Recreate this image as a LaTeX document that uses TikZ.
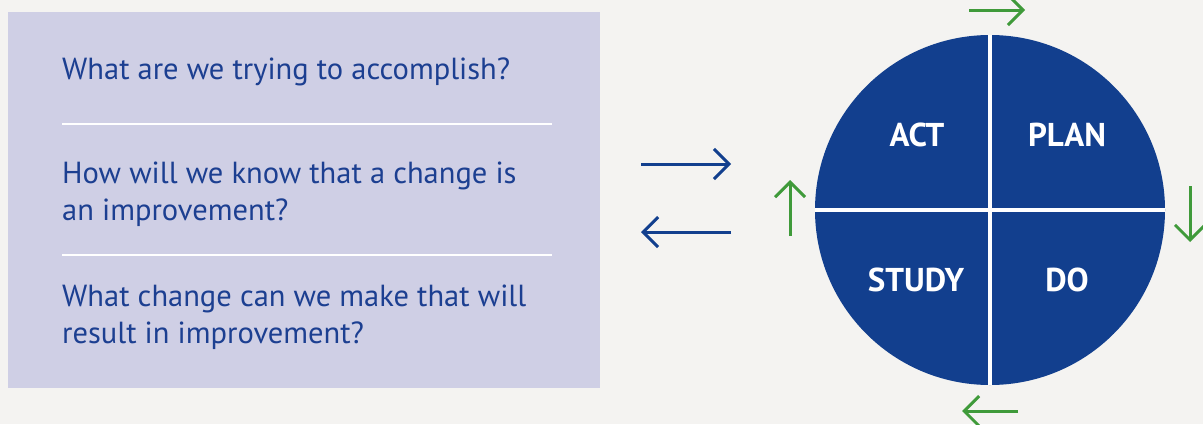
\documentclass[tikz,border=0pt]{standalone}
\usepackage{fontspec}
\setmainfont{PT Sans}
\usetikzlibrary{arrows.meta}
\definecolor{bg}{HTML}{F4F3F1}
\definecolor{boxc}{HTML}{CFCFE5}
\definecolor{navy}{HTML}{123F8E}
\definecolor{txt}{HTML}{1C3F91}
\definecolor{grn}{HTML}{3F9A3A}
\begin{document}
\begin{tikzpicture}[x=1pt,y=-1pt,
  question/.style={anchor=base west, inner sep=0, text=txt, align=left,
    font=\fontsize{30.5}{37}\selectfont},
  phase/.style={text=white, inner sep=0, font=\bfseries\fontsize{33}{33}\selectfont},
  divider/.style={white, line width=2.5pt},
  bluearrow/.style={navy, line width=3pt, -{Straight Barb[length=15pt,width=30pt]}},
  greenarrow/.style={grn, line width=3pt, -{Straight Barb[length=15pt,width=30pt]}}]
\fill[bg] (0,0) rectangle (1203,424);
\useasboundingbox (0,0) rectangle (1203,424);
\node[fill=boxc, minimum width=592pt, minimum height=376pt, anchor=north west, inner sep=0] (box) at (8,12) {};
\node[question] (q1) at (62,79) {What are we trying to accomplish?};
\node[question] (q2) at (62,220) {How will we know that a change is\\an improvement?};
\node[question] (q3) at (62,343) {What change can we make that will\\result in improvement?};
\draw[divider] (62,124) -- (552,124);
\draw[divider] (62,255) -- (552,255);
\node[circle, fill=navy, minimum size=350pt, inner sep=0] (c) at (990,210) {};
\draw[white, line width=4pt] (c.north) -- (c.south);
\draw[white, line width=4pt] (c.west) -- (c.east);
\node[phase] (act) at (917,135) {ACT};
\node[phase] (plan) at (1067,135) {PLAN};
\node[phase] (study) at (916,280) {STUDY};
\node[phase] (do) at (1067,280) {DO};
\coordinate (b1s) at (641,164); \coordinate (b1e) at (731,164);
\coordinate (b2s) at (731,232); \coordinate (b2e) at (641,232);
\draw[bluearrow] (b1s) -- (b1e);
\draw[bluearrow] (b2s) -- (b2e);
\coordinate (g1s) at (969,10); \coordinate (g1e) at (1025,10);
\coordinate (g2s) at (1190,186); \coordinate (g2e) at (1190,242);
\coordinate (g3s) at (1018,411); \coordinate (g3e) at (962,411);
\coordinate (g4s) at (790,236); \coordinate (g4e) at (790,180);
\draw[greenarrow] (g1s) -- (g1e);
\draw[greenarrow] (g2s) -- (g2e);
\draw[greenarrow] (g3s) -- (g3e);
\draw[greenarrow] (g4s) -- (g4e);
\end{tikzpicture}
\end{document}
